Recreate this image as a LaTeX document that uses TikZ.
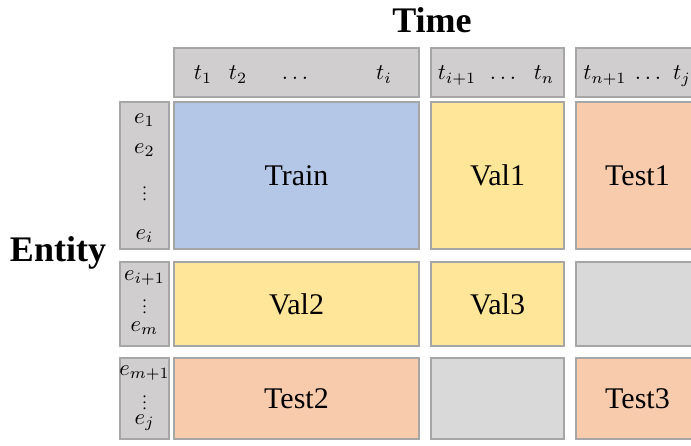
\documentclass[tikz,border=0pt]{standalone}
\usepackage{fontspec}
\setmainfont{Liberation Serif}
\definecolor{boxline}{HTML}{A6A6A6}
\definecolor{hdrgray}{HTML}{D0CECE}
\definecolor{blankgray}{HTML}{D9D9D9}
\definecolor{trainblue}{HTML}{B4C7E7}
\definecolor{valyellow}{HTML}{FFE699}
\definecolor{testorange}{HTML}{F8CBAD}
\tikzset{
  box/.style={draw=boxline, line width=2pt, inner sep=0pt, font=\fontsize{30}{34}\selectfont},
  hdr/.style={box, fill=hdrgray},
  idx/.style={inner sep=0pt, scale=2.25},
  vdt/.style={inner sep=0pt, scale=1.6},
  axis/.style={inner sep=0pt, font=\fontsize{36}{40}\selectfont\bfseries},
}
\begin{document}
\begin{tikzpicture}[x=1pt,y=-1pt]
    \useasboundingbox (0,0) rectangle (691,446);
    \clip (0,0) rectangle (691,446);

    % time headers
    \node[hdr,minimum width=245pt,minimum height=49pt] (hda) at (296.5,72.5) {};
    \node[hdr,minimum width=133pt,minimum height=49pt] (hdb) at (497.5,72.5) {};
    \node[hdr,minimum width=123pt,minimum height=49pt] (hdc) at (637.5,72.5) {};
    \node[idx,anchor=base] (t1) at (203,80) {$t_1$};
    \node[idx,anchor=base] (t2) at (238,80) {$t_2$};
    \node[idx,anchor=base] (tda) at (295,80) {$\ldots$};
    \node[idx,anchor=base] (ti) at (384,80) {$t_i$};
    \node[idx,anchor=base] (tia) at (457,80) {$t_{i+1}$};
    \node[idx,anchor=base] (tdb) at (503,80) {$\ldots$};
    \node[idx,anchor=base] (tn) at (544,80) {$t_n$};
    \node[idx,anchor=base] (tna) at (605,80) {$t_{n+1}$};
    \node[idx,anchor=base] (tdc) at (648,80) {$\ldots$};
    \node[idx,anchor=base] (tj) at (682,80) {$t_j$};

    % entity headers
    \node[hdr,minimum width=49pt,minimum height=147pt] (enta) at (144.5,175.5) {};
    \node[hdr,minimum width=49pt,minimum height=84pt] (entb) at (144.5,304) {};
    \node[hdr,minimum width=49pt,minimum height=81pt] (entc) at (144.5,398.5) {};
    \node[idx] (e1) at (144.5,120) {$e_1$};
    \node[idx] (e2) at (144.5,150) {$e_2$};
    \node[vdt] (eda) at (144.5,189) {$\vdots$};
    \node[idx] (ei) at (144.5,236) {$e_i$};
    \node[idx] (eia) at (144.5,278) {$e_{i+1}$};
    \node[vdt] (edb) at (144.5,302) {$\vdots$};
    \node[idx] (em) at (144.5,328) {$e_m$};
    \node[idx] (ema) at (144.5,373) {$e_{m+1}$};
    \node[vdt] (edc) at (144.5,398) {$\vdots$};
    \node[idx] (ej) at (144.5,423) {$e_j$};

    % splits
    \node[box,fill=trainblue,minimum width=245pt,minimum height=147pt] (train) at (296.5,175.5) {Train};
    \node[box,fill=valyellow,minimum width=133pt,minimum height=147pt] (vala) at (497.5,175.5) {Val1};
    \node[box,fill=testorange,minimum width=123pt,minimum height=147pt] (testa) at (637.5,175.5) {Test1};
    \node[box,fill=valyellow,minimum width=245pt,minimum height=84pt] (valb) at (296.5,304) {Val2};
    \node[box,fill=valyellow,minimum width=133pt,minimum height=84pt] (valc) at (497.5,304) {Val3};
    \node[box,fill=blankgray,minimum width=123pt,minimum height=84pt] (blanka) at (637.5,304) {};
    \node[box,fill=testorange,minimum width=245pt,minimum height=81pt] (testb) at (296.5,398.5) {Test2};
    \node[box,fill=blankgray,minimum width=133pt,minimum height=81pt] (blankb) at (497.5,398.5) {};
    \node[box,fill=testorange,minimum width=123pt,minimum height=81pt] (testc) at (637.5,398.5) {Test3};

    \node[axis] (ltime) at (432,20) {Time};
    \node[axis] (lentity) at (58,253) {Entity};
\end{tikzpicture}
\end{document}
